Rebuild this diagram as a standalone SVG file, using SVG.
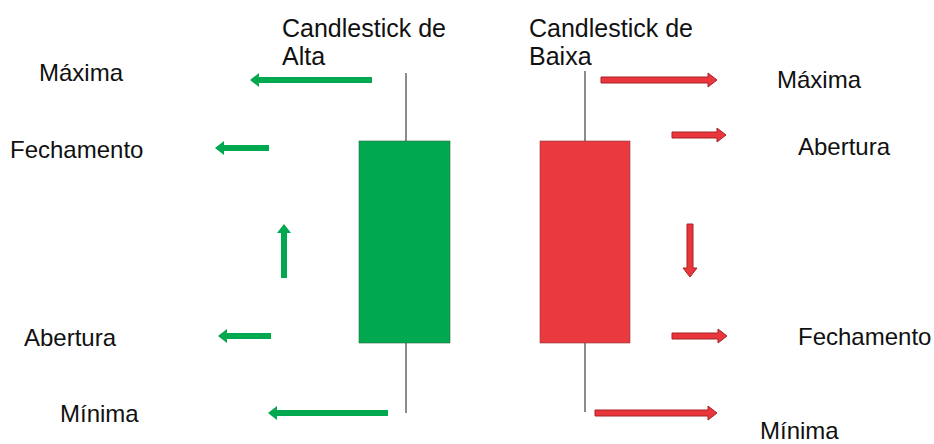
<svg xmlns="http://www.w3.org/2000/svg" width="934" height="444" viewBox="0 0 934 444">
  <style>
    .lbl { font-family: "Liberation Sans", Arial, sans-serif; font-size: 24px; fill: #111; }
    .hdr { font-size: 25px; }
    .wick { stroke: #666; stroke-width: 1.5; fill: none; }
    .up { fill: #00A84F; }
    .down { fill: #EB3A3F; }
    .ga { fill: #00A84F; }
    .ra { fill: #E8363B; stroke: #A82326; stroke-width: 1; stroke-linejoin: miter; }
  </style>
  <rect width="934" height="444" fill="#ffffff"/>

  <!-- bullish candle -->
  <g id="candle-alta">
    <line class="wick" x1="406" y1="73" x2="406" y2="141"/>
    <line class="wick" x1="406" y1="343" x2="406" y2="413"/>
    <rect class="up" x="359" y="141" width="91" height="202" stroke="#2d6a3f" stroke-width="0.6"/>
    <text class="lbl hdr" x="282" y="37">Candlestick de</text>
    <text class="lbl hdr" x="282" y="65">Alta</text>
  </g>

  <!-- bearish candle -->
  <g id="candle-baixa">
    <line class="wick" x1="585" y1="71" x2="585" y2="141"/>
    <line class="wick" x1="585" y1="343" x2="585" y2="412"/>
    <rect class="down" x="540" y="141" width="90" height="202" stroke="#8a3a3a" stroke-width="0.6"/>
    <text class="lbl hdr" x="529" y="37">Candlestick de</text>
    <text class="lbl hdr" x="529" y="65">Baixa</text>
  </g>

  <!-- labels, bullish side -->
  <g id="labels-alta">
    <text class="lbl" x="39" y="81">Máxima</text>
    <text class="lbl" x="10" y="158">Fechamento</text>
    <text class="lbl" x="24" y="346">Abertura</text>
    <text class="lbl" x="60" y="422">Mínima</text>
  </g>

  <!-- labels, bearish side -->
  <g id="labels-baixa">
    <text class="lbl" x="777" y="88">Máxima</text>
    <text class="lbl" x="798" y="155">Abertura</text>
    <text class="lbl" x="798" y="345">Fechamento</text>
    <text class="lbl" x="760" y="439">Mínima</text>
  </g>

  <!-- pointer arrows -->
  <g id="connectors">
    <!-- green, pointing left / up -->
    <polygon class="ga" points="250,80 259,73 259,77 372,77 372,83 259,83 259,87"/>
    <polygon class="ga" points="215,148 224,141 224,145 269,145 269,151 224,151 224,155"/>
    <polygon class="ga" points="284,224 291,233 287,233 287,278 281,278 281,233 277,233"/>
    <polygon class="ga" points="218,336 227,329 227,333 271,333 271,339 227,339 227,343"/>
    <polygon class="ga" points="268,413 277,406 277,410 388,410 388,416 277,416 277,420"/>
    <!-- red, pointing right / down -->
    <polygon class="ra" points="717,80 708,73 708,77 601,77 601,83 708,83 708,87"/>
    <polygon class="ra" points="726,135 717,128 717,132 672,132 672,138 717,138 717,142"/>
    <polygon class="ra" points="690,277 683,268 687,268 687,224 693,224 693,268 697,268"/>
    <polygon class="ra" points="727,336 718,329 718,333 672,333 672,339 718,339 718,343"/>
    <polygon class="ra" points="717,413 708,406 708,410 595,410 595,416 708,416 708,420"/>
  </g>
</svg>
